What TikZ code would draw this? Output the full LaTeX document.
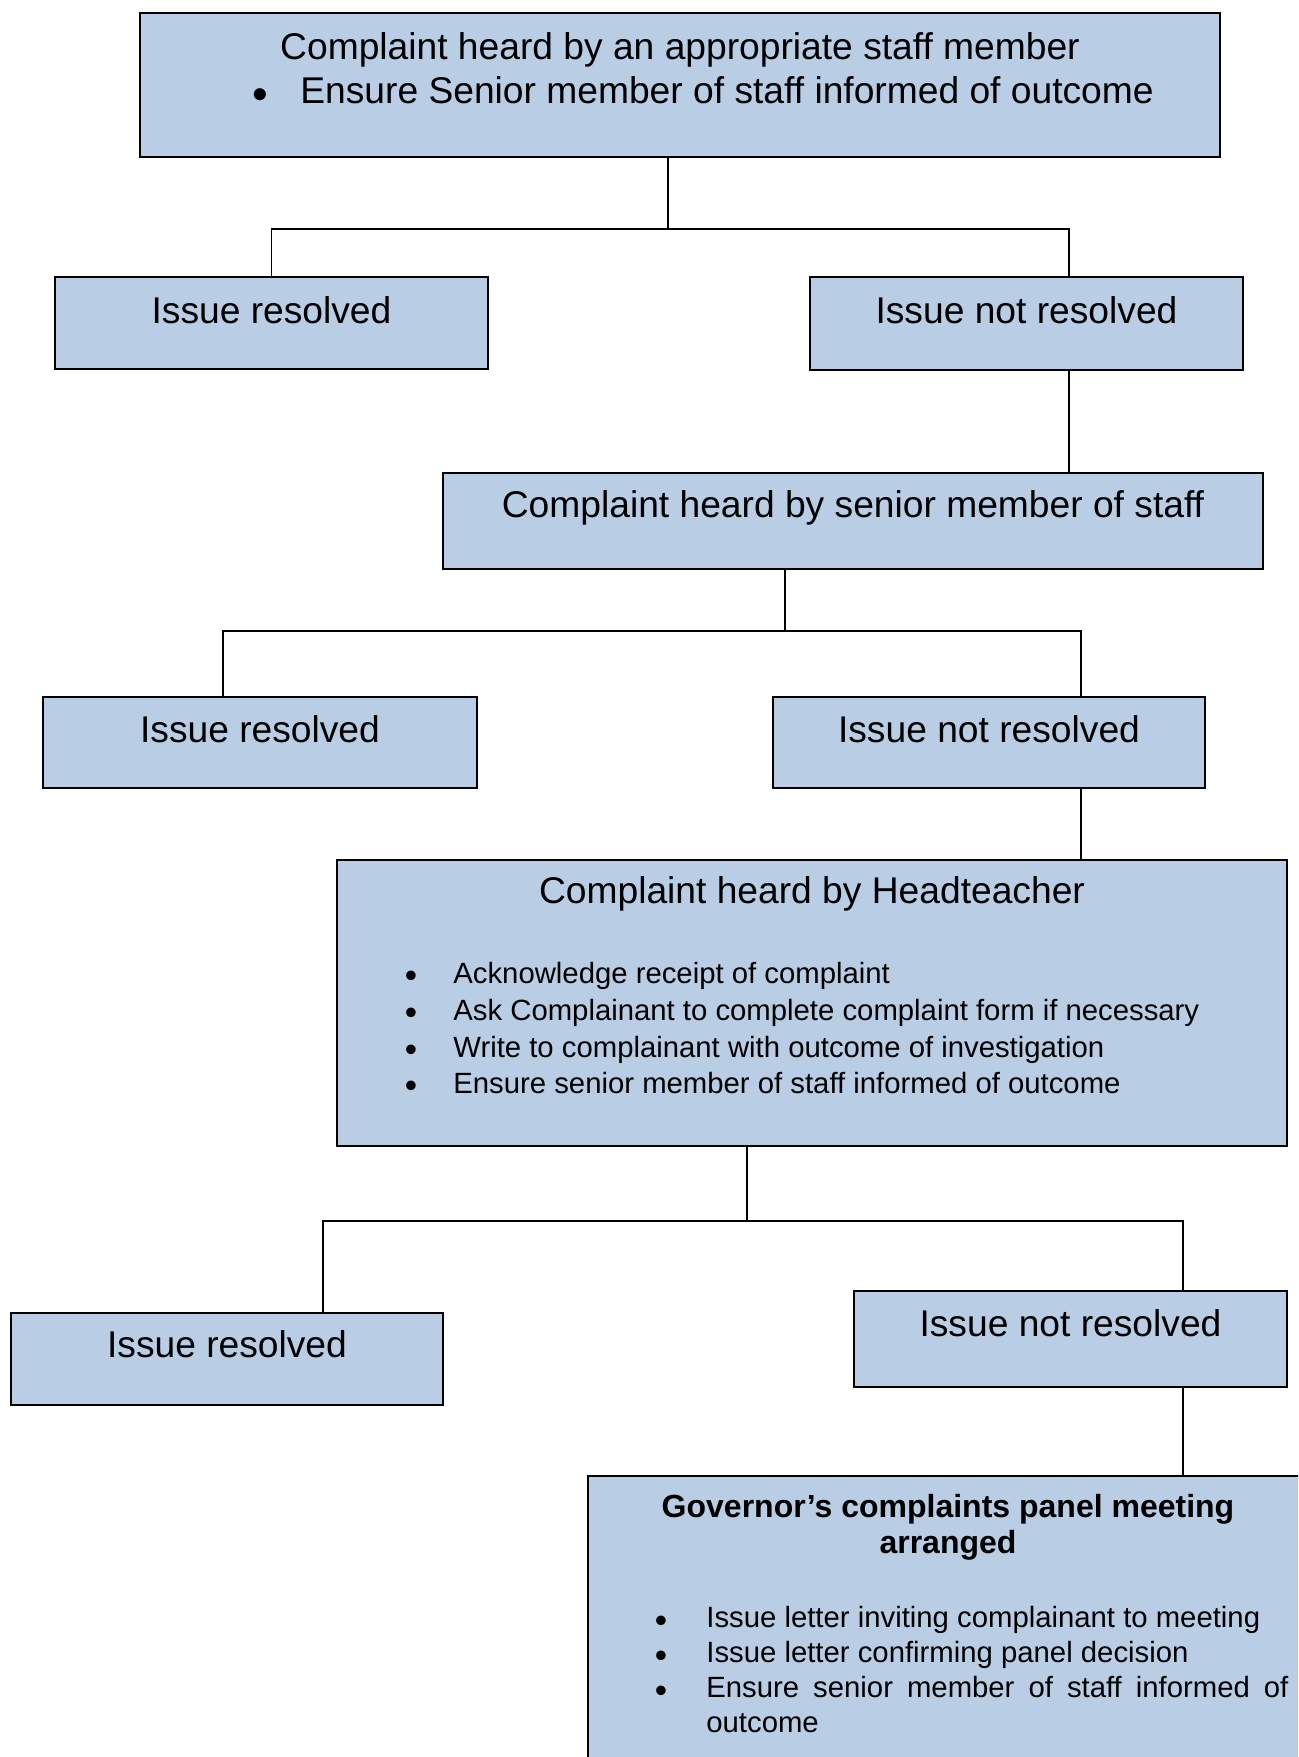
\documentclass[tikz,border=0pt]{standalone}
\usepackage{fontspec}
\usepackage{graphicx}
\setmainfont{Liberation Sans}
\usetikzlibrary{fit}
\definecolor{boxblue}{RGB}{185,205,229}
\newcommand\mybul{\raisebox{-0.17em}{\scalebox{1.2}{\textbullet}}}
\begin{document}
\begin{tikzpicture}[x=0.5pt,y=-0.5pt,
  box/.style={draw=black, line width=1pt, fill=boxblue, inner sep=0pt, outer sep=0pt},
  conn/.style={draw=black, line width=0.8pt},
  big/.style={font=\fontsize{18.6pt}{21pt}\selectfont, inner sep=0pt, anchor=base},
  bigl/.style={big, anchor=base west},
  small/.style={font=\fontsize{14.65pt}{17pt}\selectfont, inner sep=0pt, anchor=base},
  smalll/.style={small, anchor=base west},
  boldt/.style={font=\fontsize{16pt}{18pt}\selectfont\bfseries, inner sep=0pt, anchor=base}]
\useasboundingbox (0,0) rectangle (1298,1757);
\clip (0,0) rectangle (1298,1757);

% boxes
\node[box, fit={(140,13) (1220,157)}] (top) {};
\node[box, fit={(55,277) (488,369)}] (ir1) {};
\node[box, fit={(810,277) (1243,370)}] (nr1) {};
\node[box, fit={(443,473) (1263,569)}] (sen) {};
\node[box, fit={(43,697) (477,788)}] (ir2) {};
\node[box, fit={(773,697) (1205,788)}] (nr2) {};
\node[box, fit={(337,860) (1287,1146)}] (head) {};
\node[box, fit={(11,1313) (443,1405)}] (ir3) {};
\node[box, fit={(854,1291) (1287,1387)}] (nr3) {};
\node[box, fit={(588,1476) (1308,1800)}] (gov) {};

% connector junctions
\coordinate (j1) at (668,229);
\coordinate (k1) at (1069,229);
\coordinate (j2) at (785,631);
\coordinate (l2) at (223,631);
\coordinate (r2) at (1081,631);
\coordinate (j3) at (747,1221);
\coordinate (l3) at (323,1221);
\coordinate (r3) at (1183,1221);

\draw[conn] (top.south -| j1) -- (j1);
\draw[conn] (ir1.north) |- (k1) -- (nr1.north -| k1);
\draw[conn] (nr1.south -| k1) -- (sen.north -| k1);
\draw[conn] (sen.south -| j2) -- (j2);
\draw[conn] (ir2.north -| l2) -- (l2) -- (r2) -- (nr2.north -| r2);
\draw[conn] (nr2.south -| r2) -- (head.north -| r2);
\draw[conn] (head.south -| j3) -- (j3);
\draw[conn] (ir3.north -| l3) -- (l3) -- (r3) -- (nr3.north -| r3);
\draw[conn] (nr3.south -| r3) -- (gov.north -| r3);

% texts
\node[big] (topt) at (680,59) {Complaint heard by an appropriate staff member};
\node[big] (topb) at (260,103) {\mybul};
\node[bigl] (topi) at (300,103) {Ensure Senior member of staff informed of outcome};

\node[big] (ir1t) at (271.5,323) {Issue resolved};
\node[big] (nr1t) at (1026.5,323) {Issue not resolved};
\node[big] (sent) at (853,517) {Complaint heard by senior member of staff};
\node[big] (ir2t) at (260,742) {Issue resolved};
\node[big] (nr2t) at (989,742) {Issue not resolved};

\node[big] (headt) at (812,903) {Complaint heard by Headteacher};
\node[small] (hb1) at (411,983) {\mybul};
\node[smalll] (hi1) at (453,983) {Acknowledge receipt of complaint};
\node[small] (hb2) at (411,1020) {\mybul};
\node[smalll] (hi2) at (453,1020) {Ask Complainant to complete complaint form if necessary};
\node[small] (hb3) at (411,1057) {\mybul};
\node[smalll] (hi3) at (453,1057) {Write to complainant with outcome of investigation};
\node[small] (hb4) at (411,1093) {\mybul};
\node[smalll] (hi4) at (453,1093) {Ensure senior member of staff informed of outcome};

\node[big] (ir3t) at (227,1357) {Issue resolved};
\node[big] (nr3t) at (1070.5,1336) {Issue not resolved};

\node[boldt] (govt1) at (948,1517) {Governor’s complaints panel meeting};
\node[boldt] (govt2) at (948,1553) {arranged};
\node[small] (gb1) at (661,1627) {\mybul};
\node[smalll] (gi1) at (706,1627) {Issue letter inviting complainant to meeting};
\node[small] (gb2) at (661,1662) {\mybul};
\node[smalll] (gi2) at (706,1662) {Issue letter confirming panel decision};
\node[small] (gb3) at (661,1697) {\mybul};
\node[smalll] (gi3) at (706,1697) {\makebox[291pt][s]{Ensure senior member of staff informed of}};
\node[smalll] (gi4) at (706,1732) {outcome};
\end{tikzpicture}
\end{document}
